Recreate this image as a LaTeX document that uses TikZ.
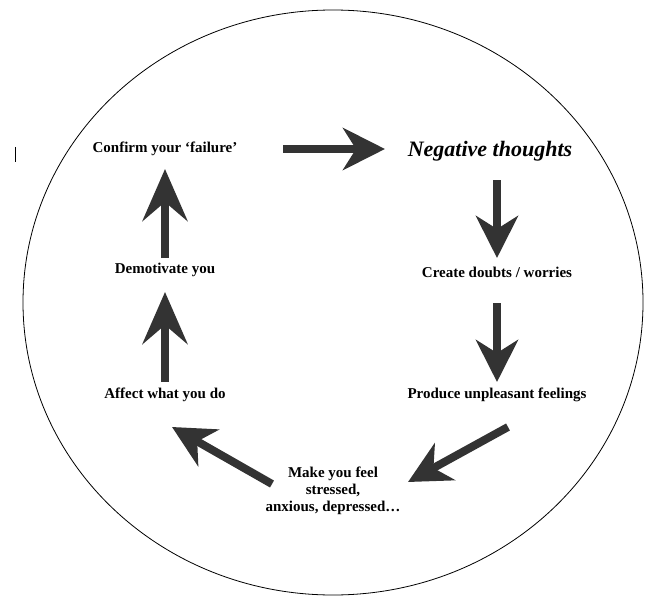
\documentclass[tikz,border=0pt]{standalone}
\usepackage{fontspec}
\setmainfont{Liberation Serif}
\usetikzlibrary{positioning}
\usetikzlibrary{arrows.meta}
\definecolor{arrowColor}{RGB}{51,51,51}

\begin{document}
\begin{tikzpicture}[x=1pt,y=-1pt]

            \tikzstyle{stepNode} = [font=\fontsize{15}{17}\selectfont\bfseries, align=center, inner sep=2pt];
            \tikzstyle{startNode} = [font=\fontsize{22}{26}\selectfont\bfseries\itshape, inner sep=2pt];
            \tikzstyle{bigArrow} = [line width=8pt, arrowColor, -{Stealth[length=42pt, width=42pt, inset=13pt]}];
            \tikzstyle{upArrow} = [line width=8pt, arrowColor, -{Stealth[length=52pt, width=45pt, inset=19pt]}];
            \tikzstyle{frameLine} = [line width=0.8pt];

            \useasboundingbox (0,0) rectangle (663,604);
            \draw[frameLine] (333,302.5) ellipse [x radius=310, y radius=292.5];
            \draw[line width=1pt] (15,147) -- (15,162);

            \node[stepNode] (confirm) at (165,149) {Confirm your ‘failure’};
            \node[startNode] (neg) at (490,151) {Negative thoughts};
            \node[stepNode] (doubts) at (497,272) {Create doubts / worries};
            \node[stepNode] (feelings) at (497,395) {Produce unpleasant feelings};
            \node[stepNode] (make) at (333,491) {Make you feel\\stressed,\\anxious, depressed…};
            \node[stepNode] (affect) at (165,395) {Affect what you do};
            \node[stepNode] (demot) at (165,270) {Demotivate you};

            \coordinate (feelTail) at (508,427);
            \coordinate (makeIn) at (408,482);
            \coordinate (makeOut) at (272,484);
            \coordinate (affectIn) at (172,427);

            \draw[bigArrow, shorten <=118pt, shorten >=105pt] (confirm.center) -- (confirm.center -| neg.center);
            \draw[bigArrow, shorten <=29pt, shorten >=14pt] (neg.center -| doubts.center) -- (doubts.center);
            \draw[bigArrow, shorten <=31pt, shorten >=13pt] (doubts.center) -- (feelings.center);
            \draw[bigArrow] (feelTail) -- (makeIn);
            \draw[bigArrow] (makeOut) -- (affectIn);
            \draw[upArrow, shorten <=13pt, shorten >=22pt] (affect.center) -- (demot.center);
            \draw[upArrow, shorten <=12pt, shorten >=20pt] (demot.center) -- (confirm.center);
          \end{tikzpicture}
\end{document}
